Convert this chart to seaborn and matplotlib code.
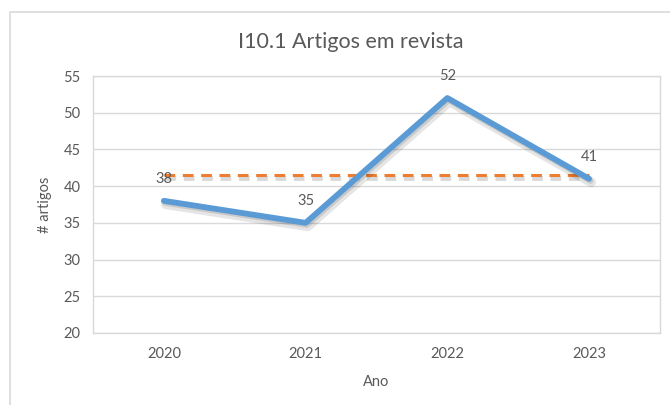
import matplotlib
matplotlib.use("Agg")
import matplotlib.pyplot as plt
import matplotlib.patheffects as pe
import pandas as pd
import seaborn as sns

# data
anos = ["2020", "2021", "2022", "2023"]
artigos = [38, 35, 52, 41]
media = [41.5, 41.5, 41.5, 41.5]
yticks = [20, 25, 30, 35, 40, 45, 50, 55]

BLUE = "#5B9BD5"
ORANGE = "#ED7D31"
GREY = "#595959"
GRID = "#D9D9D9"

sns.set_style("white")
plt.rcParams["font.family"] = ["Lato", "DejaVu Sans"]

df = pd.DataFrame({"Ano": anos, "artigos": artigos, "media": media})
df["pos"] = range(len(anos))

fig = plt.figure(figsize=(6.7, 4.05), dpi=100)
ax = fig.add_axes([0.1388, 0.1778, 0.8462, 0.6345])

# outer chart border
fig.patches.append(plt.Rectangle((10 / 670, -0.05), 1.0, 1 - 12 / 405 + 0.05,
                                 transform=fig.transFigure, fill=False,
                                 edgecolor=GRID, linewidth=1.2))

# soft drop shadows, a bit like the office chart style
shadow_line = [pe.SimpleLineShadow(offset=(1.5, -2.5), alpha=0.10, shadow_color="black", linewidth=7),
               pe.SimpleLineShadow(offset=(1, -1.5), alpha=0.12, shadow_color="black"),
               pe.Normal()]
shadow_dash = [pe.SimpleLineShadow(offset=(1, -2), alpha=0.15, shadow_color="black", linewidth=3.5),
               pe.Normal()]

sns.lineplot(data=df, x="pos", y="media", ax=ax, color=ORANGE, linewidth=2.2,
             linestyle=(0, (3.5, 2.5)), path_effects=shadow_dash, zorder=3)
sns.lineplot(data=df, x="pos", y="artigos", ax=ax, color=BLUE, linewidth=4.2,
             path_effects=shadow_line, zorder=4, solid_capstyle="round")

for p, v in zip(df["pos"], df["artigos"]):
    ax.text(p, v + 3.0, str(v), ha="center", va="center", fontsize=10.5, color=GREY, zorder=5)

ax.set_xlim(-0.5, 3.5)
ax.set_ylim(20, 55)
ax.set_xticks(df["pos"])
ax.set_xticklabels(anos)
ax.set_yticks(yticks)
ax.tick_params(axis="x", length=0, labelsize=10.5, colors=GREY, pad=10)
ax.tick_params(axis="y", length=0, labelsize=10.5, colors=GREY, pad=9)
ax.yaxis.grid(True, color=GRID, linewidth=1)
ax.set_axisbelow(True)
for s in ax.spines.values():
    s.set_color(GRID)
    s.set_linewidth(1)

ax.set_xlabel("Ano", fontsize=10.5, color=GREY, labelpad=10)
ax.set_ylabel("# artigos", fontsize=10.5, color=GREY, labelpad=8)
fig.text(0.524, 1 - 42 / 405, "I10.1 Artigos em revista", ha="center", va="center",
         fontsize=15.5, color=GREY)

fig.savefig("out.png", dpi=100)
